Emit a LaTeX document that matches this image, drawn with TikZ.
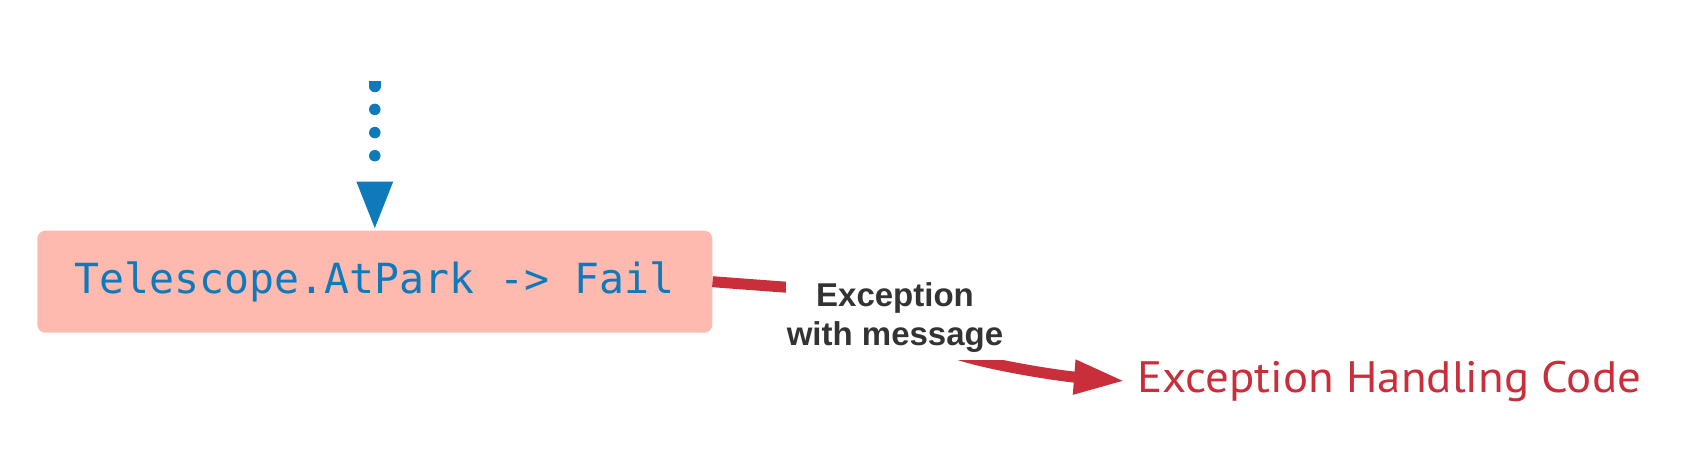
\documentclass[tikz,border=0pt]{standalone}
\usepackage{fontspec}
\usetikzlibrary{arrows.meta}
\newfontfamily\boxmono{DejaVu Sans Mono}
\newfontfamily\lblfont{Liberation Sans}
\newfontfamily\tgtfont{PT Sans}
\definecolor{myblue}{RGB}{14,122,188}
\definecolor{boxfill}{RGB}{255,186,176}
\definecolor{myred}{RGB}{200,47,58}
\definecolor{lbltext}{RGB}{51,51,51}
\tikzset{
  stepbox/.style={fill=boxfill, rounded corners=8pt, minimum width=675pt, minimum height=102pt,
    inner sep=0pt, text=myblue, font=\boxmono\fontsize{41.5}{50}\selectfont},
  dotline/.style={draw=myblue, line width=11.5pt, line cap=round,
    dash pattern=on 5.5pt off 22.9pt on 0pt off 23.2pt on 0pt off 23.1pt on 0pt off 300pt,
    -{Triangle[length=49pt,width=33pt]}},
  redline/.style={draw=myred, line width=11pt, -{Triangle[length=51pt,width=32pt]}},
  lblbox/.style={fill=white, minimum width=218pt, minimum height=85pt, inner sep=0pt,
    align=center, text=lbltext, font=\lblfont\bfseries\fontsize{33}{39}\selectfont},
  tgtbox/.style={anchor=west, inner xsep=12pt, inner ysep=0pt, text height=23.4pt, text depth=0pt,
    text=myred, font=\tgtfont\fontsize{44}{52}\selectfont}
}
\begin{document}
\begin{tikzpicture}[x=1pt,y=-1pt]
\useasboundingbox (0,0) rectangle (1691,459);
\node[stepbox] (box) at (374.8,281.7) {Telescope.AtPark -> Fail};
\coordinate (top) at (374.8,81);
\begin{scope}
  \clip (0,81) rectangle (1691,459);
  \draw[dotline] (top) -- (box.north);
\end{scope}
\node[tgtbox] (tgt) at (1125,381) {\scalebox{1.066}[1]{Exception Handling Code}};
\draw[redline] (box.east) -- (790,287.5) .. controls (850,292) and (920,345) .. (960,355)
  .. controls (995,366) and (1060,376) .. (tgt.west);
\node[lblbox] (lbl) at (895,317.5) {Exception\\with message};
\end{tikzpicture}
\end{document}
